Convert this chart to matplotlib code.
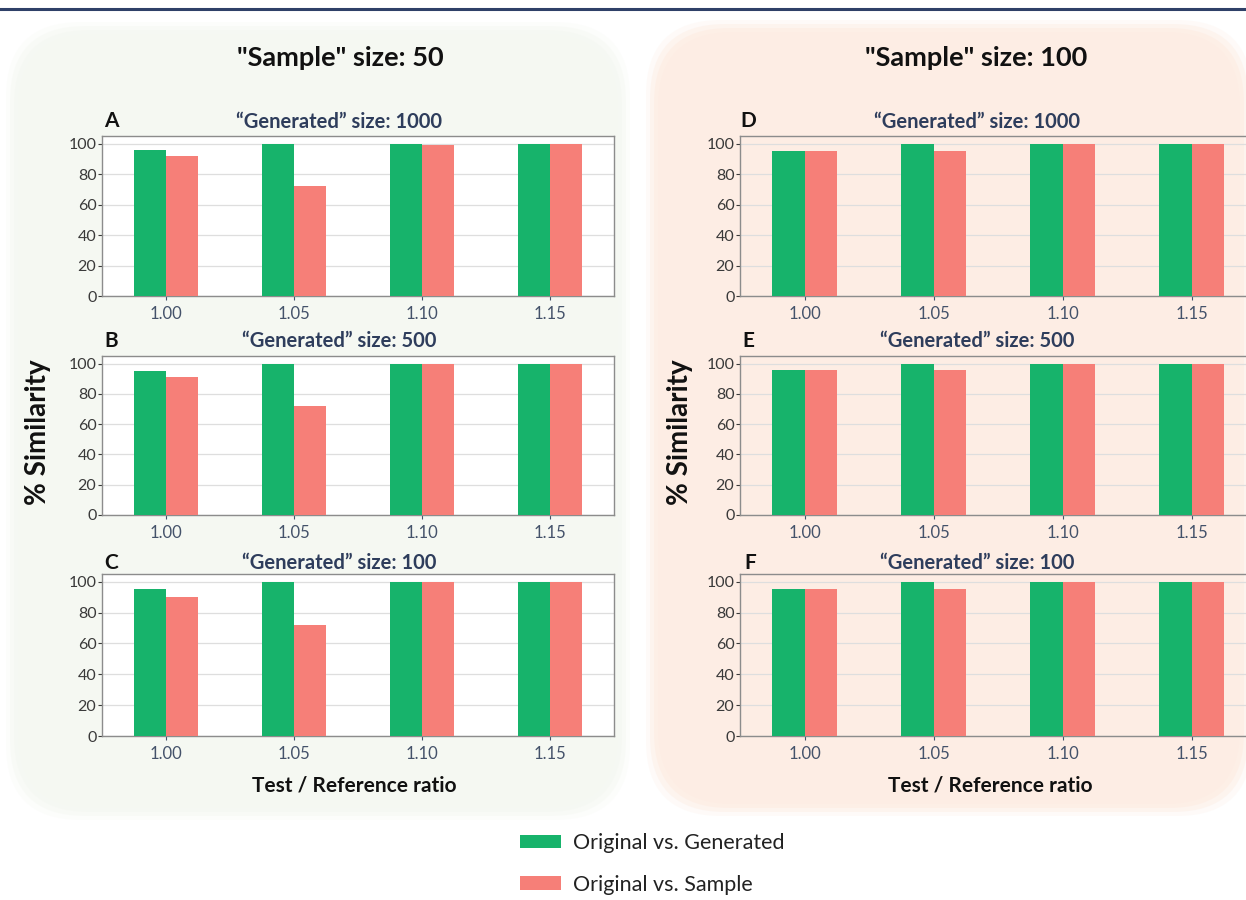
import matplotlib
matplotlib.use('Agg')
import matplotlib.pyplot as plt
from matplotlib.patches import FancyBboxPatch
from matplotlib.transforms import IdentityTransform
import numpy as np

# ---------------- data ----------------
ratios = ['1.00', '1.05', '1.10', '1.15']
series_labels = ['Original vs. Generated', 'Original vs. Sample']
group_titles = ['"Sample" size: 50', '"Sample" size: 100']
panel_letters = ['A', 'B', 'C', 'D', 'E', 'F']
panel_titles = ['\u201cGenerated\u201d size: 1000', '\u201cGenerated\u201d size: 500',
                '\u201cGenerated\u201d size: 100',
                '\u201cGenerated\u201d size: 1000', '\u201cGenerated\u201d size: 500',
                '\u201cGenerated\u201d size: 100']
y_ticks = [0, 20, 40, 60, 80, 100]

gen_A = [96, 100, 100, 100]
samp_A = [92, 72, 99, 100]
gen_B = [95, 100, 100, 100]
samp_B = [91, 72, 100, 100]
gen_C = [95, 100, 100, 100]
samp_C = [90, 72, 100, 100]
gen_D = [95, 100, 100, 100]
samp_D = [95, 95, 100, 100]
gen_E = [96, 100, 100, 100]
samp_E = [96, 96, 100, 100]
gen_F = [95, 100, 100, 100]
samp_F = [95, 95, 100, 100]

gen_all = [gen_A, gen_B, gen_C, gen_D, gen_E, gen_F]
samp_all = [samp_A, samp_B, samp_C, samp_D, samp_E, samp_F]

# ---------------- style ----------------
W, H = 1246, 900
plt.rcParams['font.family'] = ['Lato', 'DejaVu Sans']
GREEN = '#17b36b'
PINK = '#f67f78'
NAVY = '#2e3d5c'
TICKC = '#3a3a3a'
XTICKC = '#44526a'

fig = plt.figure(figsize=(W / 100, H / 100), dpi=100)
fig.patch.set_facecolor('white')


def fx(x):
    return x / W


def fy(y):
    return 1 - y / H


# top navy rule
fig.add_artist(plt.Line2D([0, 1], [fy(9), fy(9)], transform=fig.transFigure,
                          color='#2f4068', lw=2.2))


# background rounded panels (soft edges via layers)
def soft_panel(x0, y0, x1, y1, color):
    for k, a in [(0, 0.25), (4, 0.45), (8, 0.7), (12, 1.0)]:
        p = FancyBboxPatch((x0 + k - 8, H - y1 + k - 8), (x1 - x0) - 2 * k + 16,
                           (y1 - y0) - 2 * k + 16,
                           boxstyle='round,pad=0,rounding_size=75',
                           transform=IdentityTransform(), facecolor=color,
                           edgecolor='none', alpha=a, zorder=-10)
        fig.add_artist(p)


soft_panel(14, 30, 622, 812, '#f5f8f2')
soft_panel(654, 28, 1244, 808, '#fdede4')

rows = [(136, 296), (356, 515), (574, 736)]
cols = [(102, 614), (740, 1256)]
title_cx = [339, 977]
title_y = [122, 341, 563]
letter_x = [[104, 104, 104], [740, 742, 744]]
letter_y = [121, 341, 563]

x = np.arange(len(ratios))
bw = 0.25
handles = None
for c in range(2):
    for r in range(3):
        i = c * 3 + r
        l, rr = cols[c]
        t, b = rows[r]
        ax = fig.add_axes([fx(l), fy(b), fx(rr - l), (b - t) / H])
        ax.set_facecolor('white' if c == 0 else 'none')
        b1 = ax.bar(x - bw / 2, gen_all[i], bw, color=GREEN, zorder=3,
                    label=series_labels[0])
        b2 = ax.bar(x + bw / 2, samp_all[i], bw, color=PINK, zorder=3,
                    label=series_labels[1])
        handles = [b1, b2]
        ax.set_xlim(-0.5, 3.5)
        ax.set_ylim(0, 105)
        ax.set_yticks(y_ticks)
        ax.set_xticks(x)
        ax.set_xticklabels(ratios)
        ax.grid(axis='y', color='#dedede', lw=0.9, zorder=0)
        ax.tick_params(axis='y', labelsize=11.5, colors=TICKC, length=3, width=0.8, pad=1)
        ax.tick_params(axis='x', labelsize=12, colors=XTICKC, length=3, width=0.8, pad=4)
        for s in ax.spines.values():
            s.set_color('#8c8c8c')
            s.set_linewidth(1.0)
        fig.text(fx(title_cx[c]), fy(title_y[r]), panel_titles[i], ha='center',
                 va='center', fontsize=14.5, fontweight='bold', color=NAVY)
        fig.text(fx(letter_x[c][r]), fy(letter_y[r]), panel_letters[i], ha='left',
                 va='center', fontsize=15, fontweight='bold', color='#111111')

# group titles
fig.text(fx(340), fy(58), group_titles[0], ha='center', va='center', fontsize=19.5,
         fontweight='bold', color='#111111')
fig.text(fx(976), fy(58), group_titles[1], ha='center', va='center', fontsize=19.5,
         fontweight='bold', color='#111111')

# y labels
fig.text(fx(38), fy(432), '% Similarity', rotation=90, ha='center', va='center',
         fontsize=20, fontweight='bold', color='#111111')
fig.text(fx(680), fy(432), '% Similarity', rotation=90, ha='center', va='center',
         fontsize=20, fontweight='bold', color='#111111')

# x labels
fig.text(fx(354), fy(785), 'Test / Reference ratio', ha='center', va='center',
         fontsize=15, fontweight='bold', color='#111111')
fig.text(fx(990), fy(785), 'Test / Reference ratio', ha='center', va='center',
         fontsize=15, fontweight='bold', color='#111111')

# legend
fig.legend(handles, series_labels, loc='upper left',
           bbox_to_anchor=(fx(520), fy(833)), frameon=False, fontsize=15.5,
           handlelength=1.9, handleheight=0.6, handletextpad=0.55,
           labelspacing=1.0, borderpad=0, borderaxespad=0,
           labelcolor='#222222')

fig.savefig('out.png', dpi=100)
